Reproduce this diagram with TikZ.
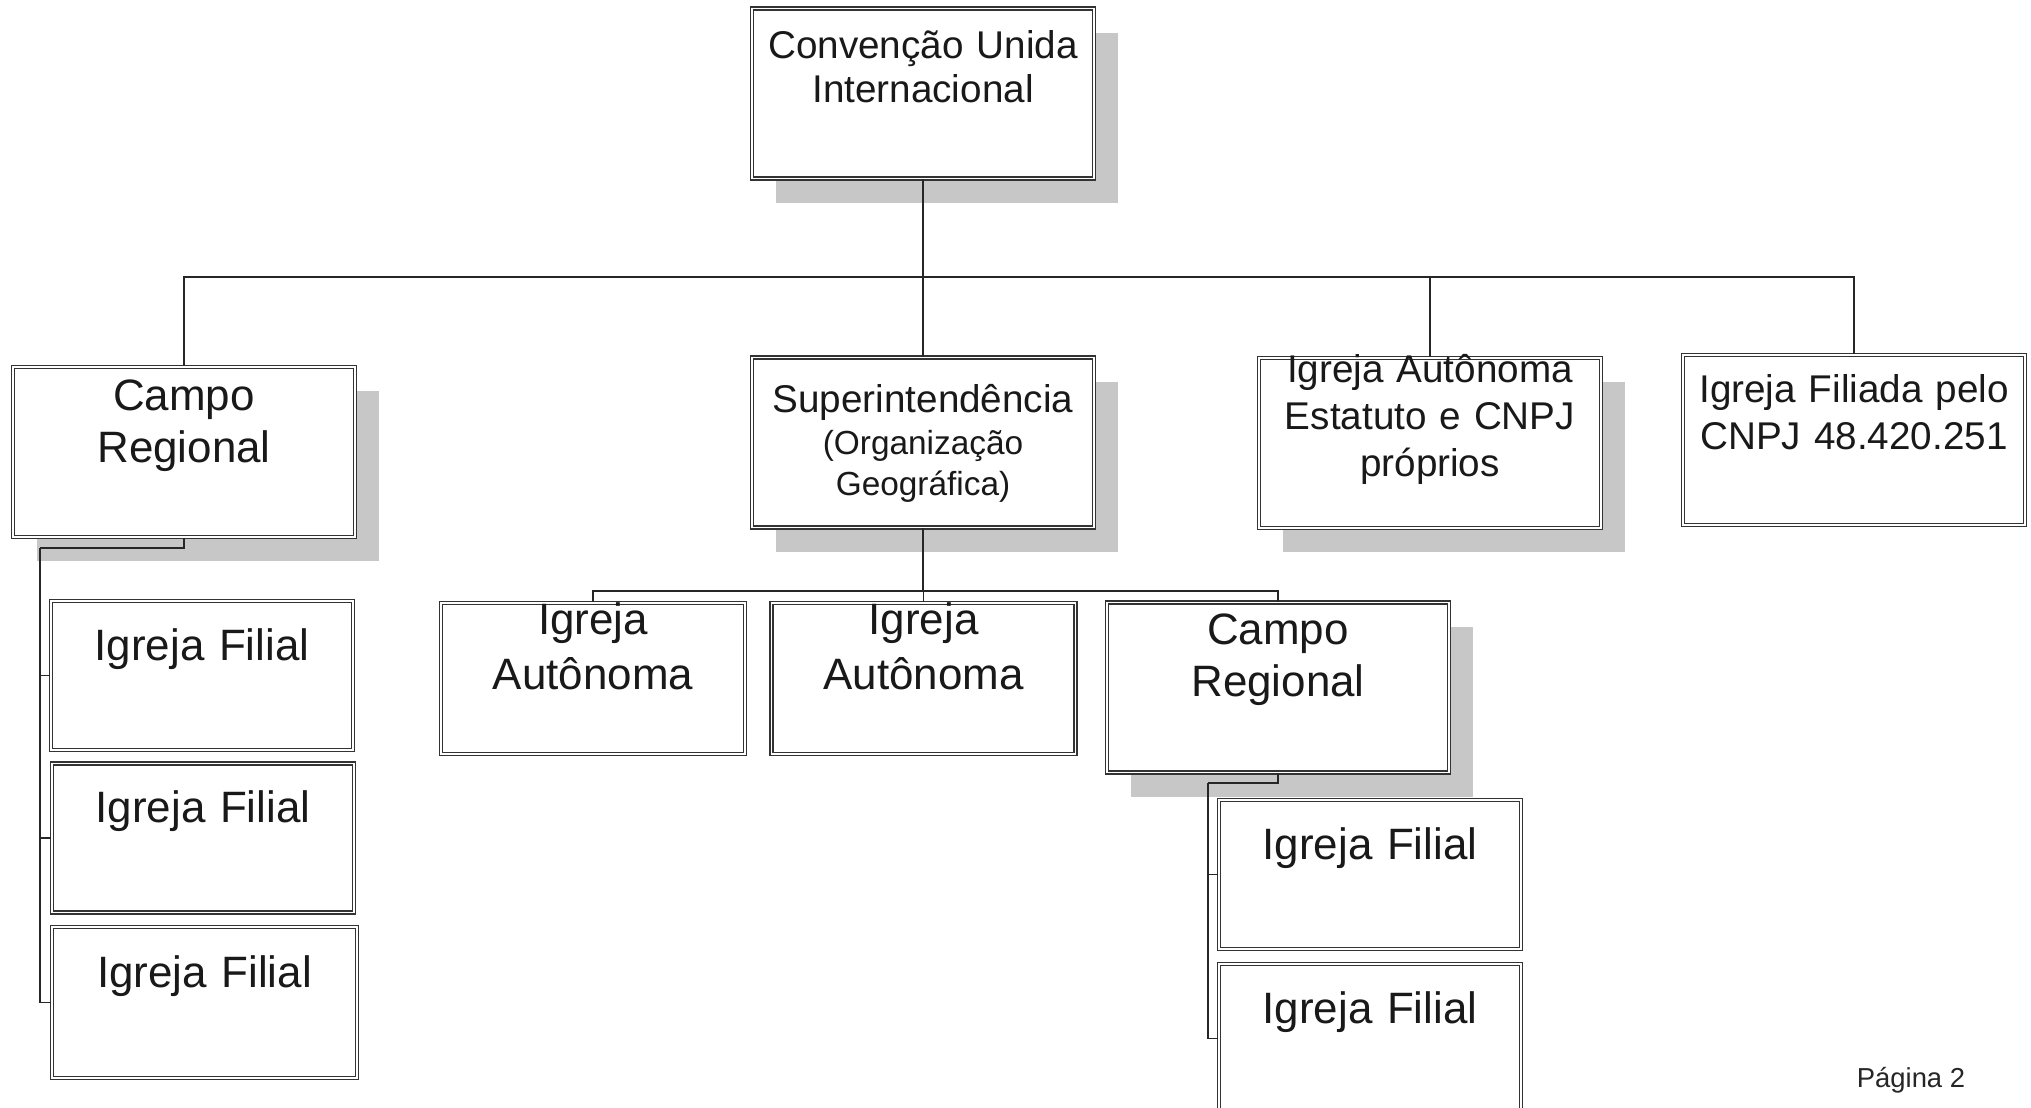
\documentclass[tikz,border=0pt]{standalone}
\usepackage{fontspec}
\setmainfont{Liberation Sans}
\usetikzlibrary{positioning, shadows}

\begin{document}
\begin{tikzpicture}[
  orgbox/.style={draw=black!80, line width=0.45pt, double=white, double distance=0.5pt, fill=white},
  bigbox/.style={orgbox, minimum width=3.42cm, minimum height=1.70cm},
  smallbox/.style={orgbox, minimum width=3.02cm, minimum height=1.49cm},
  shade/.style={drop shadow={shadow xshift=0.24cm, shadow yshift=-0.24cm, fill=black!22, opacity=1}},
  boxtext/.style={anchor=base, text width=3.4cm, align=center, inner sep=0pt, text=black!90},
  bigfont/.style={font=\fontsize{12.5pt}{14.8pt}\selectfont},
  conn/.style={draw=black!85, line width=0.5pt}
]
\useasboundingbox[fill=white] (0,0) rectangle (20.31,-11.07);

% top level
\node[bigbox, shade, label={[boxtext, font=\fontsize{11pt}{12.5pt}\selectfont, yshift=-0.51cm]north:Convenção Unida\\Internacional}] (conv) at (9.23,-0.935) {};

% second level
\node[bigbox, shade, label={[boxtext, bigfont, yshift=-0.44cm]north:Campo\\Regional}] (campoL) at (1.84,-4.52) {};
\node[bigbox, shade, label={[boxtext, font=\fontsize{11pt}{13pt}\selectfont, yshift=-0.56cm]north:Superintendência\endgraf{\fontsize{9.5pt}{11.8pt}\selectfont (Organização\\Geográfica)\endgraf}}] (super) at (9.23,-4.425) {};
\node[bigbox, shade, label={[boxtext, font=\fontsize{11pt}{13.4pt}\selectfont, yshift=-0.25cm]north:Igreja Autônoma\\Estatuto e CNPJ\\próprios}] (estat) at (14.30,-4.43) {};
\node[bigbox, label={[boxtext, font=\fontsize{11pt}{13.4pt}\selectfont, yshift=-0.48cm]north:Igreja Filiada pelo\\CNPJ 48.420.251}] (filiada) at (18.54,-4.40) {};

% under campo regional (left)
\node[smallbox, label={[boxtext, bigfont, yshift=-0.60cm]north:Igreja Filial}] (filL1) at (2.02,-6.755) {};
\node[smallbox, label={[boxtext, bigfont, yshift=-0.60cm]north:Igreja Filial}] (filL2) at (2.03,-8.38) {};
\node[smallbox, minimum width=3.05cm, minimum height=1.51cm, label={[boxtext, bigfont, yshift=-0.61cm]north:Igreja Filial}] (filL3) at (2.045,-10.025) {};

% under superintendencia
\node[smallbox, minimum width=3.04cm, minimum height=1.51cm, label={[boxtext, font=\fontsize{12.5pt}{15.6pt}\selectfont, yshift=-0.32cm]north:Igreja\\Autônoma}] (aut1) at (5.93,-6.785) {};
\node[smallbox, minimum width=3.04cm, minimum height=1.51cm, label={[boxtext, font=\fontsize{12.5pt}{15.6pt}\selectfont, yshift=-0.32cm]north:Igreja\\Autônoma}] (aut2) at (9.235,-6.785) {};
\node[bigbox, shade, label={[boxtext, bigfont, yshift=-0.43cm]north:Campo\\Regional}] (campoR) at (12.78,-6.875) {};

% under campo regional (right)
\node[smallbox, label={[boxtext, bigfont, yshift=-0.60cm]north:Igreja Filial}] (filR1) at (13.70,-8.745) {};
\node[smallbox, label={[boxtext, bigfont, yshift=-0.60cm]north:Igreja Filial}] (filR2) at (13.70,-10.385) {};

\node[font=\fontsize{7.8pt}{9pt}\selectfont, anchor=base, text=black!85] (pagina) at (19.11,-10.87) {Página 2};

% connectors
\coordinate (bus) at (9.23,-2.77);
\coordinate (sbus) at (9.23,-5.91);
\coordinate (lspine) at (0.40,-5.48);
\coordinate (rspine) at (12.08,-7.83);

\draw[conn] (conv.south) -- (bus);
\draw[conn] (bus) -| (campoL.north);
\draw[conn] (bus) -| (super.north);
\draw[conn] (bus) -| (estat.north);
\draw[conn] (bus) -| (filiada.north);

\draw[conn] (campoL.south) |- (lspine);
\draw[conn] (lspine) |- (filL1.west);
\draw[conn] (lspine) |- (filL2.west);
\draw[conn] (lspine) |- (filL3.west);

\draw[conn] (super.south) -- (sbus);
\draw[conn] (sbus) -| (aut1.north);
\draw[conn] (sbus) -| (aut2.north);
\draw[conn] (sbus) -| (campoR.north);

\draw[conn] (campoR.south) |- (rspine);
\draw[conn] (rspine) |- (filR1.west);
\draw[conn] (rspine) |- (filR2.west);
\end{tikzpicture}
\end{document}
